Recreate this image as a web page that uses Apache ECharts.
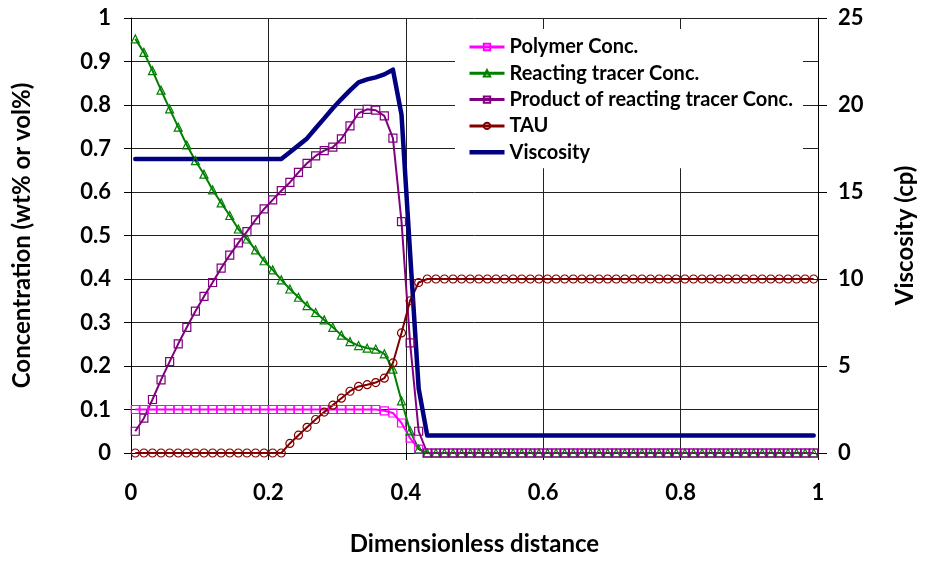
<!DOCTYPE html>
<html>
<head>
<meta charset="utf-8">
<script src="https://cdn.jsdelivr.net/npm/echarts@6/dist/echarts.min.js"></script>
<style>
  html, body { margin: 0; padding: 0; background: #fff; }
  #chart { width: 925px; height: 561px; }
</style>
</head>
<body>
<div id="chart"></div>
<script>
// Dimensionless distance of each grid block centre
const distance = [
  0.00625, 0.01875, 0.03125, 0.04375, 0.05625, 0.06875, 0.08125, 0.09375, 0.10625, 0.11875,
  0.13125, 0.14375, 0.15625, 0.16875, 0.18125, 0.19375, 0.20625, 0.21875, 0.23125, 0.24375,
  0.25625, 0.26875, 0.28125, 0.29375, 0.30625, 0.31875, 0.33125, 0.34375, 0.35625, 0.36875,
  0.38125, 0.39375, 0.40625, 0.41875, 0.43125, 0.44375, 0.45625, 0.46875, 0.48125, 0.49375,
  0.50625, 0.51875, 0.53125, 0.54375, 0.55625, 0.56875, 0.58125, 0.59375, 0.60625, 0.61875,
  0.63125, 0.64375, 0.65625, 0.66875, 0.68125, 0.69375, 0.70625, 0.71875, 0.73125, 0.74375,
  0.75625, 0.76875, 0.78125, 0.79375, 0.80625, 0.81875, 0.83125, 0.84375, 0.85625, 0.86875,
  0.88125, 0.89375, 0.90625, 0.91875, 0.93125, 0.94375, 0.95625, 0.96875, 0.98125, 0.99375
];

const polymerConc = [
  0.1, 0.1, 0.1, 0.1, 0.1, 0.1, 0.1, 0.1, 0.1, 0.1,
  0.1, 0.1, 0.1, 0.1, 0.1, 0.1, 0.1, 0.1, 0.1, 0.1,
  0.1, 0.1, 0.1, 0.1, 0.1, 0.1, 0.1, 0.1, 0.1, 0.097,
  0.092, 0.069, 0.034, 0.009, 0, 0, 0, 0, 0, 0,
  0, 0, 0, 0, 0, 0, 0, 0, 0, 0,
  0, 0, 0, 0, 0, 0, 0, 0, 0, 0,
  0, 0, 0, 0, 0, 0, 0, 0, 0, 0,
  0, 0, 0, 0, 0, 0, 0, 0, 0, 0
];

const reactingTracerConc = [
  0.952, 0.921, 0.879, 0.834, 0.791, 0.749, 0.708, 0.672, 0.641, 0.605,
  0.575, 0.546, 0.515, 0.492, 0.467, 0.442, 0.421, 0.398, 0.377, 0.358,
  0.339, 0.323, 0.306, 0.289, 0.271, 0.256, 0.247, 0.241, 0.239, 0.228,
  0.193, 0.120, 0.051, 0.009, 0, 0, 0, 0, 0, 0,
  0, 0, 0, 0, 0, 0, 0, 0, 0, 0,
  0, 0, 0, 0, 0, 0, 0, 0, 0, 0,
  0, 0, 0, 0, 0, 0, 0, 0, 0, 0,
  0, 0, 0, 0, 0, 0, 0, 0, 0, 0
];

const productConc = [
  0.050, 0.080, 0.123, 0.168, 0.210, 0.251, 0.289, 0.326, 0.360, 0.392,
  0.425, 0.455, 0.483, 0.509, 0.536, 0.561, 0.582, 0.603, 0.622, 0.645,
  0.666, 0.683, 0.695, 0.703, 0.722, 0.752, 0.781, 0.790, 0.788, 0.775,
  0.724, 0.532, 0.253, 0.050, 0, 0, 0, 0, 0, 0,
  0, 0, 0, 0, 0, 0, 0, 0, 0, 0,
  0, 0, 0, 0, 0, 0, 0, 0, 0, 0,
  0, 0, 0, 0, 0, 0, 0, 0, 0, 0,
  0, 0, 0, 0, 0, 0, 0, 0, 0, 0
];

const tau = [
  0, 0, 0, 0, 0, 0, 0, 0, 0, 0,
  0, 0, 0, 0, 0, 0, 0, 0, 0.022, 0.041,
  0.059, 0.077, 0.094, 0.110, 0.126, 0.142, 0.153, 0.157, 0.162, 0.172,
  0.207, 0.276, 0.350, 0.392, 0.4, 0.4, 0.4, 0.4, 0.4, 0.4,
  0.4, 0.4, 0.4, 0.4, 0.4, 0.4, 0.4, 0.4, 0.4, 0.4,
  0.4, 0.4, 0.4, 0.4, 0.4, 0.4, 0.4, 0.4, 0.4, 0.4,
  0.4, 0.4, 0.4, 0.4, 0.4, 0.4, 0.4, 0.4, 0.4, 0.4,
  0.4, 0.4, 0.4, 0.4, 0.4, 0.4, 0.4, 0.4, 0.4, 0.4
];

const viscosity = [
  16.9, 16.9, 16.9, 16.9, 16.9, 16.9, 16.9, 16.9, 16.9, 16.9,
  16.9, 16.9, 16.9, 16.9, 16.9, 16.9, 16.9, 16.9, 17.29, 17.68,
  18.08, 18.66, 19.23, 19.81, 20.34, 20.84, 21.30, 21.47, 21.59, 21.76,
  22.03, 19.45, 11.5, 3.7, 1, 1, 1, 1, 1, 1,
  1, 1, 1, 1, 1, 1, 1, 1, 1, 1,
  1, 1, 1, 1, 1, 1, 1, 1, 1, 1,
  1, 1, 1, 1, 1, 1, 1, 1, 1, 1,
  1, 1, 1, 1, 1, 1, 1, 1, 1, 1
];

const seriesNames = [
  'Polymer Conc.',
  'Reacting tracer Conc.',
  'Product of reacting tracer Conc.',
  'TAU',
  'Viscosity'
];

const FONT = 'Lato';
const pairs = (vals) => distance.map((x, i) => [x, vals[i]]);

function markedLine(name, vals, color, symbol, size) {
  return {
    name: name,
    type: 'line',
    yAxisIndex: 0,
    data: pairs(vals),
    symbol: symbol,
    symbolSize: size,
    showSymbol: true,
    lineStyle: { color: color, width: 2 },
    itemStyle: { color: 'rgba(255,255,255,0)', borderColor: color, borderWidth: 1.2 },
    emphasis: { disabled: true },
    animation: false
  };
}

const chart = echarts.init(document.getElementById('chart'), null, { renderer: 'canvas' });

const axisText = { color: '#000', fontFamily: FONT, fontWeight: 'bold', fontSize: 22 };
const nameText = { color: '#000', fontFamily: FONT, fontWeight: 'bold', fontSize: 24 };

// Legend entries; the viscosity key is a plain thick bar like its line
const legendData = seriesNames.map((n, i) =>
  i === 4 ? { name: n, icon: 'path://M0,0L35,0L35,4.5L0,4.5Z' } : { name: n });

chart.setOption({
  animation: false,
  backgroundColor: '#fff',
  grid: { left: 131, right: 105, top: 18, bottom: 107, containLabel: false },
  legend: {
    orient: 'vertical',
    left: 455,
    top: 29,
    width: 355,
    padding: [6, 10, 4, 13],
    backgroundColor: '#fff',
    itemWidth: 35,
    itemHeight: 8,
    itemGap: 2.3,
    data: legendData,
    lineStyle: { width: 3 },
    textStyle: { color: '#000', fontFamily: FONT, fontWeight: 'bold', fontSize: 20, lineHeight: 24 },
    z: 10
  },
  xAxis: {
    type: 'value',
    min: 0, max: 1, interval: 0.2,
    name: 'Dimensionless distance',
    nameLocation: 'middle',
    nameGap: 79,
    nameTextStyle: nameText,
    axisLine: { show: true, lineStyle: { color: '#000', width: 1 } },
    axisTick: { show: true, inside: false, length: 7, lineStyle: { color: '#000' } },
    axisLabel: Object.assign({ margin: 29 }, axisText),
    splitLine: { show: true, lineStyle: { color: '#222', width: 1 } }
  },
  yAxis: [
    {
      type: 'value',
      position: 'left',
      min: 0, max: 1, interval: 0.1,
      name: 'Concentration (wt% or vol%)',
      nameLocation: 'middle',
      nameRotate: 90,
      nameGap: 97,
      nameTextStyle: nameText,
      axisLine: { show: true, lineStyle: { color: '#000', width: 1 } },
      axisTick: { show: true, inside: false, length: 7, lineStyle: { color: '#000' } },
      axisLabel: Object.assign({ margin: 20 }, axisText),
      splitLine: { show: true, lineStyle: { color: '#222', width: 1 } }
    },
    {
      type: 'value',
      position: 'right',
      min: 0, max: 25, interval: 5,
      name: 'Viscosity (cp)',
      nameLocation: 'middle',
      nameRotate: 90,
      nameGap: 75,
      nameTextStyle: nameText,
      axisLine: { show: true, lineStyle: { color: '#000', width: 1 } },
      axisTick: { show: true, inside: false, length: 9, lineStyle: { color: '#000' } },
      axisLabel: Object.assign({ margin: 20 }, axisText),
      splitLine: { show: false }
    }
  ],
  series: [
    markedLine(seriesNames[0], polymerConc, '#FF00FF', 'rect', 8),
    markedLine(seriesNames[1], reactingTracerConc, '#008000', 'triangle', 8),
    markedLine(seriesNames[2], productConc, '#800080', 'rect', 8),
    markedLine(seriesNames[3], tau, '#800000', 'circle', 8),
    {
      name: seriesNames[4],
      type: 'line',
      yAxisIndex: 1,
      data: pairs(viscosity),
      symbol: 'none',
      showSymbol: false,
      lineStyle: { color: '#000080', width: 4.5, join: 'round', cap: 'round' },
      itemStyle: { color: '#000080' },
      emphasis: { disabled: true },
      animation: false
    }
  ]
});
</script>
</body>
</html>
